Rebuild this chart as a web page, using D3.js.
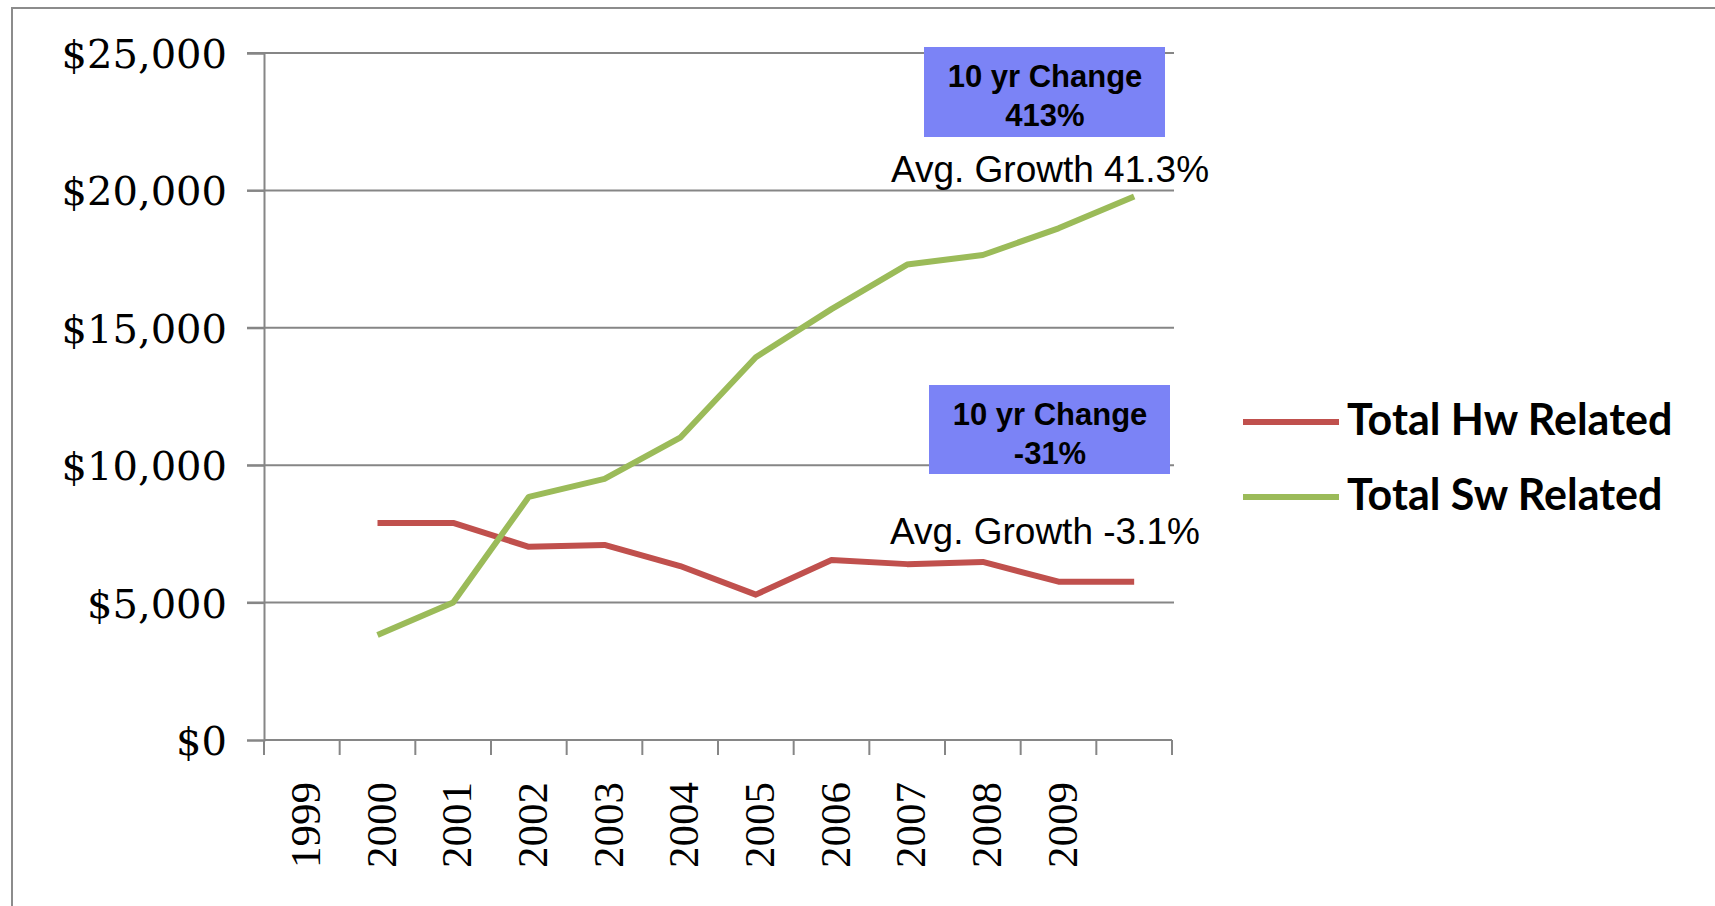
<!DOCTYPE html>
<html>
<head>
<meta charset="utf-8">
<script src="https://cdn.jsdelivr.net/npm/d3@7"></script>
<style>
  body { margin: 0; background: #fff; }
  svg { display: block; }
</style>
</head>
<body>
<svg id="chart" width="1715" height="906"></svg>
<script>
// categories on the x axis (last slot carries no label)
var categories = ["1999", "2000", "2001", "2002", "2003", "2004", "2005", "2006", "2007", "2008", "2009", ""];
// values, first slot is empty
var hwValues = [null, 7900, 7900, 7030, 7100, 6330, 5290, 6550, 6400, 6480, 5760, 5760];
var swValues = [null, 3820, 5000, 8850, 9500, 11000, 13930, 15680, 17300, 17650, 18620, 19780];
var yTicks = [0, 5000, 10000, 15000, 20000, 25000];
var seriesNames = ["Total Hw Related", "Total Sw Related"];
var seriesColors = ["#c0504d", "#9bbb59"];
var boxLines = [["10 yr Change", "413%"], ["10 yr Change", "-31%"]];
var growthLabels = ["Avg. Growth 41.3%", "Avg. Growth -3.1%"];

var svg = d3.select("#chart");
var gridColor = "#868686";

// outer frame
svg.append("path")
  .attr("d", "M12,906 L12,8 L1715,8")
  .attr("fill", "none")
  .attr("stroke", "#8c8c8c")
  .attr("stroke-width", 2);

var x = d3.scaleBand().domain(categories).range([264, 1172]);
var y = d3.scaleLinear().domain([0, 25000]).range([740, 53]);

// gridlines
svg.append("g").selectAll("line")
  .data(yTicks.slice(1))
  .enter().append("line")
  .attr("x1", 247).attr("x2", 1174)
  .attr("y1", function(d) { return y(d); })
  .attr("y2", function(d) { return y(d); })
  .attr("stroke", gridColor)
  .attr("stroke-width", 2);

// y axis
var yAxis = d3.axisLeft(y).tickValues(yTicks).tickSize(17).tickPadding(20)
  .tickFormat(function(d) { return "$" + d3.format(",")(d); });
var yg = svg.append("g").attr("transform", "translate(264,0)").call(yAxis);
yg.select(".domain").attr("stroke", gridColor).attr("stroke-width", 2);
yg.selectAll(".tick line").attr("stroke", gridColor).attr("stroke-width", 2);
yg.selectAll(".tick text")
  .attr("font-family", "'DejaVu Serif', serif")
  .attr("font-size", 40)
  .attr("fill", "#000")
  .attr("dy", "0.36em");

// x axis: labels only, ticks sit on band edges
var xAxis = d3.axisBottom(x).tickSize(0).tickPadding(0);
var xg = svg.append("g").attr("transform", "translate(0,740)").call(xAxis);
xg.select(".domain").remove();
xg.selectAll(".tick text")
  .attr("font-family", "'Liberation Serif', 'Times New Roman', serif")
  .attr("font-size", 43)
  .attr("fill", "#000")
  .attr("text-anchor", "end")
  .attr("transform", "translate(3,42) rotate(-90)")
  .attr("x", 0).attr("y", 0)
  .attr("dy", "0.35em");

svg.append("line")
  .attr("x1", x.range()[0]).attr("x2", x.range()[1])
  .attr("y1", y(0)).attr("y2", y(0))
  .attr("stroke", gridColor).attr("stroke-width", 2);

var edges = categories.map(function(c) { return x(c); }).concat([x.range()[1]]);
svg.append("g").selectAll("line")
  .data(edges)
  .enter().append("line")
  .attr("x1", function(d) { return d; })
  .attr("x2", function(d) { return d; })
  .attr("y1", y(0)).attr("y2", y(0) + 15)
  .attr("stroke", gridColor).attr("stroke-width", 2);

// series lines
var line = d3.line()
  .defined(function(d) { return d != null; })
  .x(function(d, i) { return x(categories[i]) + x.bandwidth() / 2; })
  .y(function(d) { return y(d); });

[hwValues, swValues].forEach(function(vals, k) {
  svg.append("path")
    .attr("d", line(vals))
    .attr("fill", "none")
    .attr("stroke", seriesColors[k])
    .attr("stroke-width", 6)
    .attr("stroke-linejoin", "round");
});

// annotation boxes
var boxes = [
  { x: 924, y: 47, w: 241, h: 90, cx: 1045 },
  { x: 929, y: 385, w: 241, h: 89, cx: 1050 }
];
boxes.forEach(function(b, k) {
  svg.append("rect")
    .attr("x", b.x).attr("y", b.y)
    .attr("width", b.w).attr("height", b.h)
    .attr("fill", "#7b83f6");
  boxLines[k].forEach(function(t, j) {
    svg.append("text")
      .attr("x", b.cx)
      .attr("y", b.y + 40 + j * 39)
      .attr("text-anchor", "middle")
      .attr("font-family", "'Liberation Sans', Arial, sans-serif")
      .attr("font-weight", "bold")
      .attr("font-size", 31)
      .attr("fill", "#000")
      .text(t);
  });
});

var growthPos = [{ x: 1050, y: 182 }, { x: 1045, y: 544 }];
growthLabels.forEach(function(t, k) {
  svg.append("text")
    .attr("x", growthPos[k].x)
    .attr("y", growthPos[k].y)
    .attr("text-anchor", "middle")
    .attr("font-family", "'Liberation Sans', Arial, sans-serif")
    .attr("font-size", 37)
    .attr("fill", "#000")
    .text(t);
});

// legend
var legend = svg.append("g").attr("transform", "translate(1243,422)");
seriesNames.forEach(function(name, k) {
  var g = legend.append("g").attr("transform", "translate(0," + (k * 75) + ")");
  g.append("line")
    .attr("x1", 0).attr("x2", 96)
    .attr("y1", 0).attr("y2", 0)
    .attr("stroke", seriesColors[k])
    .attr("stroke-width", 6);
  g.append("text")
    .attr("x", 104).attr("y", 13)
    .attr("font-family", "Lato, 'Open Sans', sans-serif")
    .attr("font-weight", "bold")
    .attr("font-size", 43)
    .attr("fill", "#000")
    .text(name);
});
</script>
</body>
</html>
